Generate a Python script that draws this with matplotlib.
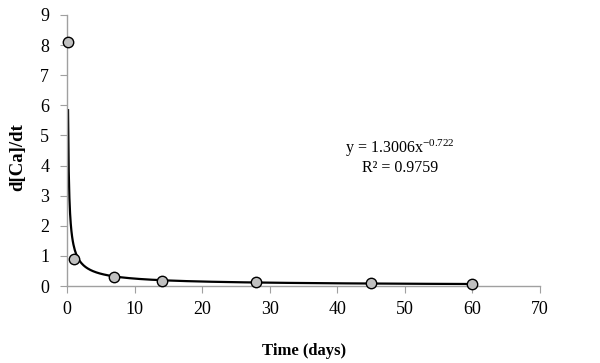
import numpy as np
import matplotlib.pyplot as plt

plt.rcParams["mathtext.fontset"] = "custom"
plt.rcParams["mathtext.rm"] = "Liberation Serif"
plt.rcParams["mathtext.it"] = "Liberation Serif:italic"

# measured points
days = [0.125, 1, 7, 14, 28, 45, 60]
rate = [8.1, 0.9, 0.3, 0.17, 0.12, 0.09, 0.07]

# power-law trendline shown on the chart
coef_a = 1.3006
coef_b = -0.722

xticks = [0, 10, 20, 30, 40, 50, 60, 70]
yticks = [0, 1, 2, 3, 4, 5, 6, 7, 8, 9]

fig = plt.figure(figsize=(6, 3.63), dpi=100)
ax = fig.add_axes([0.112, 0.212, 0.788, 0.747])

xfit = np.linspace(min(days), max(days), 600)
ax.plot(xfit, coef_a * xfit ** coef_b, color="black", linewidth=1.6, zorder=2)
ax.plot(days, rate, linestyle="none", marker="o", markersize=7.5,
        markerfacecolor="#c0c0c0", markeredgecolor="black", markeredgewidth=1.0,
        zorder=3, clip_on=False)

ax.set_xlim(0, 70)
ax.set_ylim(0, 9)
ax.set_xticks(xticks)
ax.set_yticks(yticks)

for side in ["top", "right"]:
    ax.spines[side].set_visible(False)
for side in ["left", "bottom"]:
    ax.spines[side].set_color("#a0a0a0")
    ax.spines[side].set_linewidth(1.0)
ax.tick_params(axis="both", direction="out", color="#a0a0a0", length=5,
               labelsize=13)
ax.tick_params(axis="x", pad=6)
ax.tick_params(axis="y", pad=8)
for lab in ax.get_xticklabels() + ax.get_yticklabels():
    lab.set_fontfamily("Liberation Serif")

ax.set_xlabel("Time (days)", fontfamily="Liberation Serif", fontweight="bold",
              fontsize=12, labelpad=18)
ax.set_ylabel("d[Ca]/dt", fontfamily="Liberation Serif", fontweight="bold",
              fontsize=13.5)
ax.yaxis.set_label_coords((26 - 67) / 473, (286 - 157) / 271)

ax.text(400 / 600, 1 - 157 / 363,
        "y = 1.3006x$^{\\mathrm{-0.722}}$\nR² = 0.9759",
        transform=fig.transFigure, ha="center", va="center",
        fontfamily="Liberation Serif", fontsize=11.5, linespacing=1.05)

fig.savefig("out.png", dpi=100)
